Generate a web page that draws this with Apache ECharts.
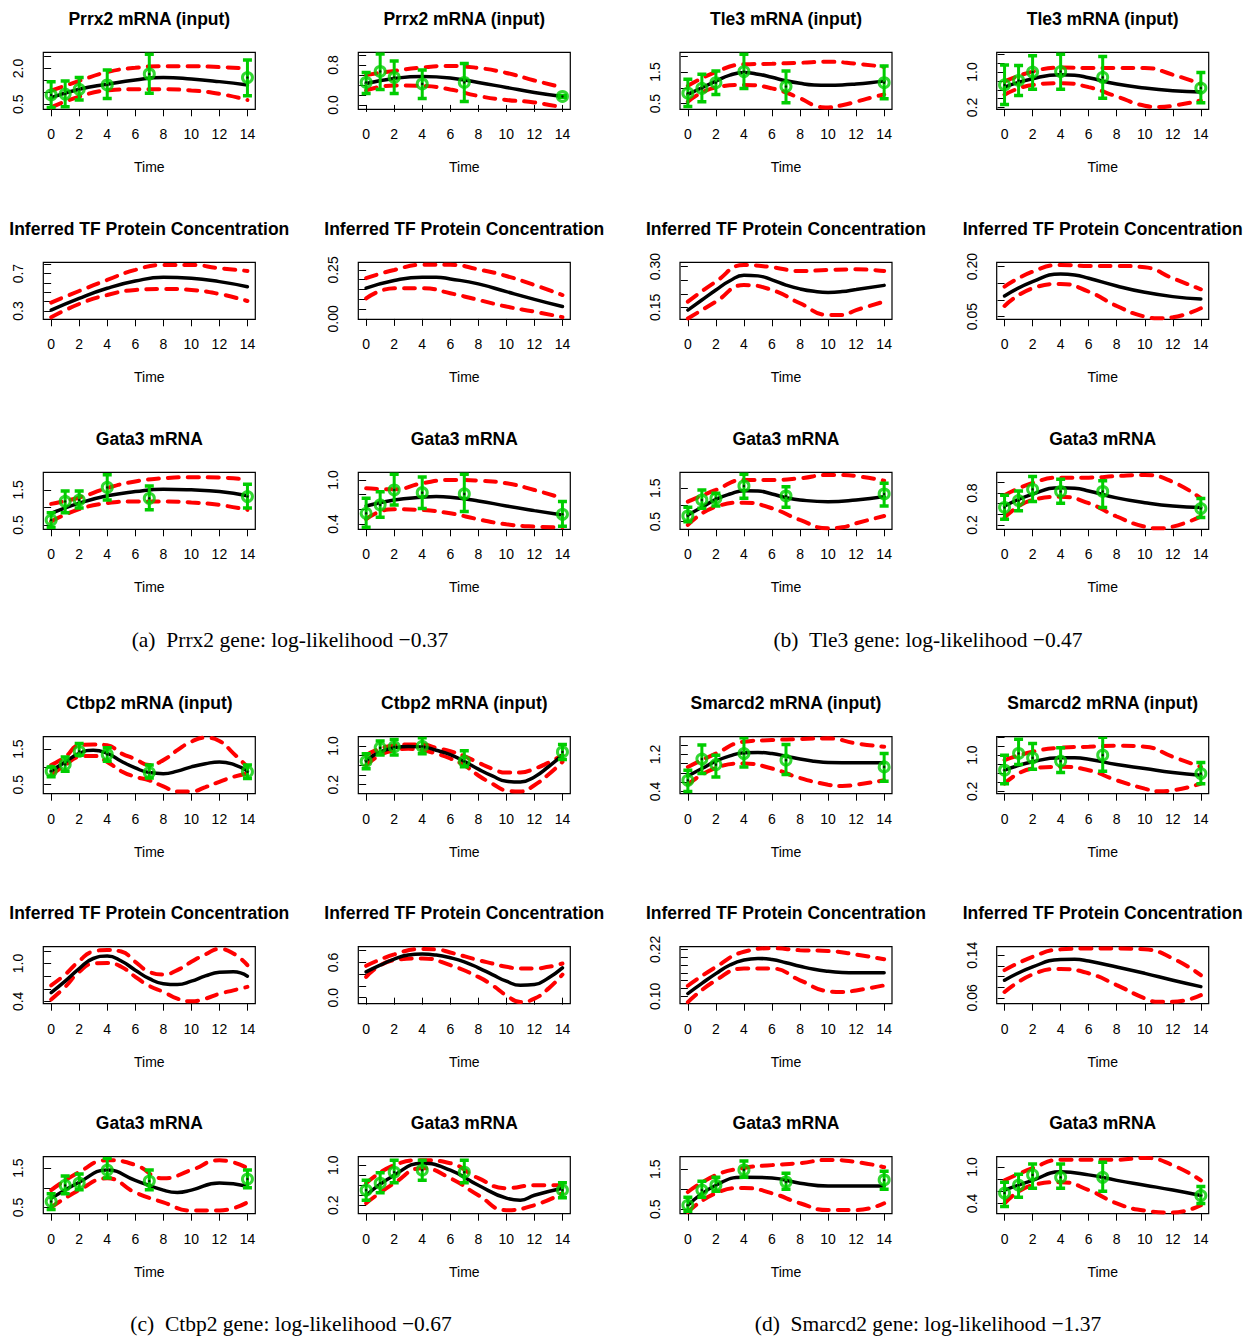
<!DOCTYPE html>
<html><head><meta charset="utf-8">
<script src="https://cdn.jsdelivr.net/npm/echarts@6/dist/echarts.min.js"></script>
<style>html,body{margin:0;padding:0;background:#fff}#chart{width:1250px;height:1338px}</style>
</head><body><div id="chart"></div>
<script>
// ---------- shared data ----------
const obsTimes = [0, 1, 2, 4, 7, 14];
const xTicks = [0, 2, 4, 6, 8, 10, 12, 14];
const captions = [
  '(a)\u00a0 Prrx2 gene: log-likelihood \u22120.37',
  '(b)\u00a0 Tle3 gene: log-likelihood \u22120.47',
  '(c)\u00a0 Ctbp2 gene: log-likelihood \u22120.67',
  '(d)\u00a0 Smarcd2 gene: log-likelihood \u22121.37'
];

// ---------- row 1 ----------
const r1c1Mean = [[0,0.78],[2,1.13],[4,1.34],[6,1.52],[8,1.62],[10,1.56],[12,1.45],[14,1.31]];
const r1c1Upper = [[0,1.07],[2,1.48],[4,1.85],[6,2.03],[8,2.1],[10,2.1],[12,2.06],[14,2.01]];
const r1c1Lower = [[0,0.37],[2,0.82],[4,1.08],[6,1.13],[8,1.13],[10,1.08],[12,0.94],[14,0.68]];
const r1c1Obs = [0.89,0.93,1.13,1.31,1.77,1.62];
const r1c1ObsLow = [0.37,0.40,0.68,0.74,0.96,0.86];
const r1c1ObsHigh = [1.45,1.48,1.62,1.94,2.6,2.36];
const r1c1YTicks = [0.5,1,1.5,2,2.5];
const r1c1YLabels = ['0.5','2.0'];

const r1c2Mean = [[0,0.43],[2,0.53],[4,0.57],[6,0.54],[8,0.45],[10,0.35],[12,0.25],[14,0.17]];
const r1c2Upper = [[0,0.6],[2,0.68],[4,0.75],[6,0.78],[8,0.74],[10,0.64],[12,0.49],[14,0.35]];
const r1c2Lower = [[0,0.29],[2,0.39],[4,0.38],[6,0.31],[8,0.18],[10,0.1],[12,0.05],[14,-0.05]];
const r1c2Obs = [0.45,0.67,0.55,0.42,0.45,0.17];
const r1c2ObsLow = [0.23,0.31,0.23,0.13,0.07,0.15];
const r1c2ObsHigh = [0.65,1.02,0.88,0.7,0.83,0.19];
const r1c2YTicks = [0,0.2,0.4,0.6,0.8,1.0];
const r1c2YLabels = ['0.0','0.8'];

const r1c3Mean = [[0,0.79],[1,1.0],[2,1.21],[3,1.4],[4,1.48],[5,1.43],[6,1.33],[7,1.22],[8,1.14],[9,1.09],[10,1.08],[11,1.09],[12,1.12],[13,1.16],[14,1.21]];
const r1c3Upper = [[0,1.06],[2,1.5],[4,1.74],[6,1.76],[8,1.79],[10,1.82],[12,1.76],[14,1.66]];
const r1c3Lower = [[0,0.56],[2,1.01],[4,1.09],[6,0.98],[8,0.67],[9,0.45],[10,0.38],[11,0.45],[12,0.56],[13,0.68],[14,0.79]];
const r1c3Obs = [0.83,0.98,1.16,1.51,1.04,1.16];
const r1c3ObsLow = [0.41,0.56,0.79,0.98,0.53,0.65];
const r1c3ObsHigh = [1.27,1.43,1.53,2.06,1.53,1.69];
const r1c3YTicks = [0.5,1,1.5,2];
const r1c3YLabels = ['0.5','1.5'];

const r1c4Mean = [[0,0.66],[2,0.85],[4,0.94],[5,0.93],[6,0.87],[8,0.73],[10,0.64],[12,0.58],[14,0.55]];
const r1c4Upper = [[0,0.79],[2,1.01],[4,1.1],[6,1.09],[8,1.09],[10,1.09],[12,0.94],[14,0.73]];
const r1c4Lower = [[0,0.49],[2,0.71],[4,0.75],[6,0.66],[8,0.45],[10,0.24],[11,0.21],[12,0.24],[14,0.36]];
const r1c4Obs = [0.71,0.81,1.0,1.01,0.88,0.64];
const r1c4ObsLow = [0.27,0.47,0.61,0.61,0.41,0.31];
const r1c4ObsHigh = [1.16,1.15,1.37,1.4,1.35,0.99];
const r1c4YTicks = [0.2,0.4,0.6,0.8,1.0,1.2,1.4];
const r1c4YLabels = ['0.2','1.0'];

// ---------- row 2 ----------
const r2c1Mean = [[0,0.31],[2,0.436],[4,0.543],[6,0.62],[8,0.66],[10,0.65],[12,0.614],[14,0.56]];
const r2c1Upper = [[0,0.39],[2,0.514],[4,0.632],[6,0.74],[8,0.793],[10,0.793],[12,0.757],[14,0.729]];
const r2c1Lower = [[0,0.232],[2,0.375],[4,0.471],[6,0.525],[8,0.536],[10,0.525],[12,0.482],[14,0.407]];
const r2c1YTicks = [0.3,0.4,0.5,0.6,0.7,0.8];
const r2c1YLabels = ['0.3','0.7'];

const r2c2Mean = [[0,0.157],[2,0.196],[4,0.213],[5,0.213],[6,0.204],[8,0.179],[10,0.139],[12,0.1],[14,0.063]];
const r2c2Upper = [[0,0.208],[2,0.25],[4,0.276],[6,0.276],[8,0.253],[10,0.219],[12,0.173],[14,0.122]];
const r2c2Lower = [[0,0.105],[2,0.157],[4,0.157],[6,0.131],[8,0.097],[10,0.063],[12,0.037],[14,0.009]];
const r2c2YTicks = [0,0.05,0.1,0.15,0.2,0.25];
const r2c2YLabels = ['0.00','0.25'];

const r2c3Mean = [[0,0.14],[1,0.177],[2,0.214],[3,0.248],[4,0.268],[5,0.266],[6,0.251],[7,0.232],[8,0.218],[9,0.209],[10,0.205],[11,0.208],[12,0.216],[14,0.231]];
const r2c3Upper = [[0,0.171],[2,0.245],[4,0.306],[6,0.298],[8,0.284],[10,0.288],[12,0.29],[14,0.284]];
const r2c3Lower = [[0,0.109],[2,0.171],[4,0.232],[6,0.214],[8,0.165],[10,0.122],[11,0.122],[12,0.14],[14,0.171]];
const r2c3YTicks = [0.15,0.2,0.25,0.3];
const r2c3YLabels = ['0.15','0.30'];

const r2c4Mean = [[0,0.112],[2,0.155],[4,0.178],[5,0.175],[6,0.165],[8,0.142],[10,0.123],[12,0.11],[14,0.103]];
const r2c4Upper = [[0,0.14],[2,0.185],[4,0.205],[6,0.202],[8,0.202],[10,0.198],[12,0.165],[14,0.132]];
const r2c4Lower = [[0,0.082],[2,0.135],[4,0.148],[6,0.125],[8,0.082],[10,0.05],[11,0.045],[12,0.048],[14,0.075]];
const r2c4YTicks = [0.05,0.1,0.15,0.2];
const r2c4YLabels = ['0.05','0.20'];

// ---------- row 3 ----------
const r3c1Mean = [[0,0.83],[2,1.12],[4,1.33],[6,1.45],[8,1.52],[10,1.5],[12,1.45],[14,1.33]];
const r3c1Upper = [[0,1.1],[2,1.28],[4,1.55],[6,1.74],[8,1.83],[10,1.86],[12,1.85],[14,1.79]];
const r3c1Lower = [[0,0.6],[2,0.95],[4,1.12],[6,1.17],[8,1.17],[10,1.14],[12,1.07],[14,0.93]];
const r3c1Obs = [0.64,1.17,1.21,1.57,1.26,1.31];
const r3c1ObsLow = [0.43,0.85,0.98,1.21,0.93,0.98];
const r3c1ObsHigh = [0.85,1.47,1.47,1.93,1.61,1.66];
const r3c1YTicks = [0.5,1,1.5];
const r3c1YLabels = ['0.5','1.5'];

const r3c2Mean = [[0,0.645],[2,0.727],[4,0.764],[5,0.773],[6,0.764],[8,0.714],[10,0.645],[12,0.582],[14,0.523]];
const r3c2Upper = [[0,0.886],[2,0.873],[4,0.955],[6,1.0],[7,1.0],[8,0.991],[10,0.955],[12,0.864],[14,0.75]];
const r3c2Lower = [[0,0.464],[1,0.57],[2,0.6],[4,0.59],[6,0.545],[8,0.464],[10,0.395],[12,0.364],[14,0.355]];
const r3c2Obs = [0.545,0.66,0.864,0.827,0.81,0.532];
const r3c2ObsLow = [0.355,0.49,0.66,0.61,0.57,0.37];
const r3c2ObsHigh = [0.75,0.84,1.08,1.04,1.08,0.705];
const r3c2YTicks = [0.4,0.6,0.8,1.0];
const r3c2YLabels = ['0.4','1.0'];

const r3c3Mean = [[0,0.7],[1,0.93],[2,1.17],[3,1.33],[4,1.43],[5,1.42],[6,1.33],[7,1.22],[8,1.15],[10,1.1],[12,1.15],[14,1.25]];
const r3c3Upper = [[0,1.1],[2,1.45],[4,1.75],[6,1.75],[8,1.8],[10,1.9],[11,1.9],[12,1.87],[14,1.73]];
const r3c3Lower = [[0,0.4],[2,0.95],[4,1.07],[6,0.9],[8,0.55],[10,0.3],[11,0.33],[12,0.45],[14,0.67]];
const r3c3Obs = [0.67,1.15,1.2,1.57,1.27,1.33];
const r3c3ObsLow = [0.5,0.9,0.97,1.2,0.93,0.97];
const r3c3ObsHigh = [0.93,1.45,1.35,1.92,1.55,1.65];
const r3c3YTicks = [0.5,1,1.5];
const r3c3YLabels = ['0.5','1.5'];

const r3c4Mean = [[0,0.556],[2,0.78],[4,0.9],[5,0.89],[6,0.84],[8,0.71],[10,0.62],[12,0.556],[14,0.53]];
const r3c4Upper = [[0,0.76],[2,0.99],[4,1.09],[6,1.09],[8,1.12],[10,1.14],[12,1.01],[14,0.7]];
const r3c4Lower = [[0,0.34],[2,0.67],[4,0.73],[6,0.61],[8,0.36],[10,0.17],[11,0.14],[12,0.17],[14,0.36]];
const r3c4Obs = [0.53,0.66,0.87,0.83,0.83,0.51];
const r3c4ObsLow = [0.31,0.47,0.64,0.61,0.53,0.34];
const r3c4ObsHigh = [0.76,0.84,1.11,1.06,1.03,0.7];
const r3c4YTicks = [0.2,0.4,0.6,0.8,1.0];
const r3c4YLabels = ['0.2','0.8'];

// ---------- row 4 ----------
const r4c1Mean = [[0,0.88],[1,1.14],[2,1.38],[3,1.47],[4,1.38],[5,1.16],[6,0.97],[7,0.84],[8,0.81],[9,0.88],[10,1.0],[11,1.09],[12,1.14],[13,1.07],[14,0.88]];
const r4c1Upper = [[0,1.05],[1,1.28],[2,1.61],[3,1.63],[4,1.61],[5,1.38],[6,1.22],[7,1.05],[8,1.19],[9,1.47],[10,1.71],[11,1.82],[12,1.73],[13,1.38],[14,1.0]];
const r4c1Lower = [[0,0.76],[1,1.05],[2,1.28],[3,1.31],[4,1.14],[5,0.88],[6,0.72],[7,0.62],[8,0.45],[9,0.31],[10,0.31],[11,0.43],[12,0.58],[13,0.72],[14,0.81]];
const r4c1Obs = [0.88,1.07,1.44,1.35,0.84,0.86];
const r4c1ObsLow = [0.72,0.88,1.33,1.16,0.69,0.67];
const r4c1ObsHigh = [1.0,1.28,1.66,1.54,1.05,1.05];
const r4c1YTicks = [0.5,1,1.5];
const r4c1YLabels = ['0.5','1.5'];

const r4c2Mean = [[0,0.7],[1,0.876],[2,0.96],[3,0.99],[4,0.98],[5,0.91],[6,0.82],[7,0.68],[8,0.52],[9,0.38],[10,0.27],[11,0.255],[12,0.36],[13,0.57],[14,0.81]];
const r4c2Upper = [[0,0.81],[1,0.945],[2,1.01],[3,1.03],[4,1.03],[5,0.96],[6,0.89],[7,0.79],[8,0.655],[9,0.53],[10,0.45],[11,0.45],[12,0.53],[13,0.655],[14,0.81]];
const r4c2Lower = [[0,0.6],[1,0.81],[2,0.91],[3,0.94],[4,0.91],[5,0.84],[6,0.74],[7,0.6],[8,0.39],[9,0.22],[10,0.08],[11,0.06],[12,0.19],[13,0.41],[14,0.67]];
const r4c2Obs = [0.68,0.96,0.98,0.99,0.68,0.876];
const r4c2ObsLow = [0.53,0.81,0.81,0.84,0.57,0.72];
const r4c2ObsHigh = [0.84,1.1,1.13,1.17,0.9,1.03];
const r4c2YTicks = [0.2,0.4,0.6,0.8,1.0];
const r4c2YLabels = ['0.2','1.0'];

const r4c3Mean = [[0,0.735],[1,0.895],[2,1.055],[3,1.17],[4,1.236],[5,1.244],[6,1.22],[7,1.164],[8,1.1],[9,1.055],[10,1.025],[12,1.018],[14,1.018]];
const r4c3Upper = [[0,0.93],[2,1.22],[4,1.476],[6,1.513],[8,1.535],[10,1.549],[12,1.44],[14,1.367]];
const r4c3Lower = [[0,0.545],[2,0.909],[4,1.004],[6,0.895],[8,0.69],[10,0.545],[11,0.516],[12,0.545],[14,0.64]];
const r4c3Obs = [0.64,1.1,0.98,1.22,1.076,0.93];
const r4c3ObsLow = [0.4,0.785,0.713,0.93,0.764,0.618];
const r4c3ObsHigh = [0.858,1.404,1.185,1.564,1.418,1.222];
const r4c3YTicks = [0.4,0.6,0.8,1.0,1.2,1.4];
const r4c3YLabels = ['0.4','1.2'];

const r4c4Mean = [[0,0.667],[2,0.852],[4,0.941],[5,0.941],[6,0.911],[8,0.793],[10,0.704],[12,0.615],[14,0.556]];
const r4c4Upper = [[0,0.889],[2,1.074],[4,1.163],[6,1.185],[8,1.207],[10,1.185],[12,0.963],[14,0.741]];
const r4c4Lower = [[0,0.37],[2,0.704],[4,0.741],[6,0.667],[8,0.444],[10,0.259],[11,0.2],[12,0.222],[14,0.37]];
const r4c4Obs = [0.667,1.037,0.941,0.867,1.0,0.593];
const r4c4ObsLow = [0.37,0.793,0.689,0.615,0.644,0.37];
const r4c4ObsHigh = [1.0,1.348,1.259,1.163,1.393,0.837];
const r4c4YTicks = [0.2,0.4,0.6,0.8,1.0,1.2,1.4];
const r4c4YLabels = ['0.2','1.0'];

// ---------- row 5 ----------
const r5c1Mean = [[0,0.538],[1,0.72],[2,0.92],[3,1.08],[4,1.118],[5,1.04],[6,0.895],[7,0.76],[8,0.68],[9,0.666],[10,0.72],[11,0.804],[12,0.86],[13,0.868],[14,0.8]];
const r5c1Upper = [[0,0.655],[1,0.826],[2,1.04],[3,1.19],[4,1.214],[5,1.19],[6,1.028],[7,0.868],[8,0.826],[9,0.895],[10,1.028],[11,1.145],[12,1.23],[13,1.16],[14,0.974]];
const r5c1Lower = [[0,0.43],[1,0.63],[2,0.87],[3,1.0],[4,1.01],[5,0.95],[6,0.79],[7,0.645],[8,0.55],[9,0.443],[10,0.4],[11,0.443],[12,0.52],[13,0.575],[14,0.63]];
const r5c1YTicks = [0.4,0.6,0.8,1.0,1.2];
const r5c1YLabels = ['0.4','1.0'];

const r5c2Mean = [[0,0.44],[1,0.554],[2,0.657],[3,0.726],[4,0.743],[5,0.726],[6,0.68],[7,0.611],[8,0.509],[9,0.394],[10,0.28],[11,0.211],[12,0.223],[13,0.337],[14,0.509]];
const r5c2Upper = [[0,0.543],[2,0.737],[4,0.829],[5,0.823],[6,0.771],[8,0.64],[9,0.583],[10,0.526],[11,0.497],[12,0.497],[13,0.526],[14,0.583]];
const r5c2Lower = [[0,0.354],[2,0.64],[4,0.669],[6,0.554],[8,0.354],[9,0.211],[10,0.04],[11,-0.074],[12,-0.017],[13,0.154],[14,0.394]];
const r5c2YTicks = [0,0.2,0.4,0.6,0.8];
const r5c2YLabels = ['0.0','0.6'];

const r5c3Mean = [[0,0.107],[1,0.133],[2,0.158],[3,0.18],[4,0.193],[5,0.197],[6,0.194],[7,0.186],[8,0.177],[9,0.169],[10,0.164],[11,0.161],[12,0.16],[14,0.16]];
const r5c3Upper = [[0,0.127],[2,0.175],[4,0.214],[6,0.223],[8,0.218],[10,0.216],[12,0.207],[14,0.195]];
const r5c3Lower = [[0,0.085],[2,0.141],[4,0.171],[6,0.171],[8,0.141],[10,0.113],[11,0.111],[12,0.115],[14,0.128]];
const r5c3YTicks = [0.1,0.12,0.14,0.16,0.18,0.2,0.22];
const r5c3YLabels = ['0.10','0.22'];

const r5c4Mean = [[0,0.093],[2,0.118],[4,0.132],[5,0.1325],[6,0.129],[8,0.118],[10,0.106],[12,0.093],[14,0.081]];
const r5c4Upper = [[0,0.112],[2,0.137],[4,0.151],[6,0.1525],[8,0.1525],[10,0.151],[12,0.134],[14,0.1025]];
const r5c4Lower = [[0,0.071],[2,0.104],[4,0.114],[6,0.106],[8,0.084],[10,0.059],[11,0.0525],[12,0.0525],[14,0.065]];
const r5c4YTicks = [0.06,0.08,0.1,0.12,0.14];
const r5c4YLabels = ['0.06','0.14'];

// ---------- row 6 ----------
const r6c1Mean = [[0,0.73],[2,1.14],[4,1.45],[6,1.19],[8,0.94],[9,0.88],[10,0.94],[12,1.12],[14,1.04]];
const r6c1Upper = [[0,0.94],[2,1.4],[4,1.7],[6,1.58],[8,1.24],[10,1.45],[12,1.7],[14,1.5]];
const r6c1Lower = [[0,0.5],[2,0.94],[4,1.24],[6,0.88],[8,0.63],[10,0.42],[12,0.42],[14,0.63]];
const r6c1Obs = [0.65,1.06,1.12,1.45,1.17,1.22];
const r6c1ObsLow = [0.45,0.85,0.95,1.25,0.95,1.0];
const r6c1ObsHigh = [0.85,1.3,1.35,1.75,1.45,1.45];
const r6c1YTicks = [0.5,1,1.5];
const r6c1YLabels = ['0.5','1.5'];

const r6c2Mean = [[0,0.4],[2,0.8],[4,1.04],[6,0.9],[8,0.6],[10,0.34],[11,0.3],[12,0.4],[14,0.54]];
const r6c2Upper = [[0,0.64],[2,1.0],[4,1.1],[6,1.04],[8,0.74],[10,0.54],[12,0.6],[14,0.6]];
const r6c2Lower = [[0,0.24],[2,0.64],[4,0.94],[6,0.74],[8,0.4],[10,0.1],[12,0.2],[14,0.44]];
const r6c2Obs = [0.5,0.64,0.86,0.9,0.86,0.5];
const r6c2ObsLow = [0.3,0.45,0.65,0.7,0.65,0.35];
const r6c2ObsHigh = [0.7,0.85,1.1,1.1,1.1,0.65];
const r6c2YTicks = [0.2,0.4,0.6,0.8,1.0];
const r6c2YLabels = ['0.2','1.0'];

const r6c3Mean = [[0,0.6],[2,1.1],[4,1.3],[6,1.28],[8,1.15],[10,1.08],[12,1.08],[14,1.08]];
const r6c3Upper = [[0,0.93],[2,1.35],[4,1.53],[6,1.6],[8,1.65],[10,1.73],[12,1.68],[14,1.55]];
const r6c3Lower = [[0,0.43],[2,0.9],[4,1.03],[6,0.9],[8,0.65],[10,0.48],[12,0.48],[14,0.65]];
const r6c3Obs = [0.6,0.98,1.1,1.48,1.18,1.23];
const r6c3ObsLow = [0.45,0.8,0.95,1.3,1.0,1.0];
const r6c3ObsHigh = [0.8,1.2,1.3,1.7,1.4,1.45];
const r6c3YTicks = [0.5,1,1.5];
const r6c3YLabels = ['0.5','1.5'];

const r6c4Mean = [[0,0.62],[2,0.78],[4,0.92],[6,0.87],[8,0.78],[10,0.7],[12,0.62],[14,0.53]];
const r6c4Upper = [[0,0.78],[2,0.98],[4,1.12],[6,1.12],[8,1.12],[10,1.15],[12,1.03],[14,0.78]];
const r6c4Lower = [[0,0.4],[2,0.7],[4,0.75],[6,0.62],[8,0.4],[10,0.28],[12,0.25],[14,0.37]];
const r6c4Obs = [0.57,0.7,0.87,0.83,0.83,0.53];
const r6c4ObsLow = [0.35,0.5,0.65,0.65,0.6,0.4];
const r6c4ObsHigh = [0.75,0.88,1.05,1.05,1.08,0.68];
const r6c4YTicks = [0.4,0.6,0.8,1.0];
const r6c4YLabels = ['0.4','1.0'];

// ---------- panel table (built from the arrays above) ----------
const T_IN = (g) => g + ' mRNA (input)';
const T_TF = 'Inferred TF Protein Concentration';
const T_GATA = 'Gata3 mRNA';
const panels = [
  {row:0,col:0,title:T_IN('Prrx2'),yMin:0.29,yMax:2.68,mean:r1c1Mean,upper:r1c1Upper,lower:r1c1Lower,obs:r1c1Obs,lo:r1c1ObsLow,hi:r1c1ObsHigh,ticks:r1c1YTicks,labels:r1c1YLabels},
  {row:0,col:1,title:T_IN('Prrx2'),yMin:-0.087,yMax:1.053,mean:r1c2Mean,upper:r1c2Upper,lower:r1c2Lower,obs:r1c2Obs,lo:r1c2ObsLow,hi:r1c2ObsHigh,ticks:r1c2YTicks,labels:r1c2YLabels},
  {row:0,col:2,title:T_IN('Tle3'),yMin:0.32,yMax:2.12,mean:r1c3Mean,upper:r1c3Upper,lower:r1c3Lower,obs:r1c3Obs,lo:r1c3ObsLow,hi:r1c3ObsHigh,ticks:r1c3YTicks,labels:r1c3YLabels},
  {row:0,col:3,title:T_IN('Tle3'),yMin:0.16,yMax:1.445,mean:r1c4Mean,upper:r1c4Upper,lower:r1c4Lower,obs:r1c4Obs,lo:r1c4ObsLow,hi:r1c4ObsHigh,ticks:r1c4YTicks,labels:r1c4YLabels},
  {row:1,col:0,title:T_TF,yMin:0.211,yMax:0.821,mean:r2c1Mean,upper:r2c1Upper,lower:r2c1Lower,ticks:r2c1YTicks,labels:r2c1YLabels},
  {row:1,col:1,title:T_TF,yMin:-0.002,yMax:0.289,mean:r2c2Mean,upper:r2c2Upper,lower:r2c2Lower,ticks:r2c2YTicks,labels:r2c2YLabels},
  {row:1,col:2,title:T_TF,yMin:0.106,yMax:0.316,mean:r2c3Mean,upper:r2c3Upper,lower:r2c3Lower,ticks:r2c3YTicks,labels:r2c3YLabels},
  {row:1,col:3,title:T_TF,yMin:0.042,yMax:0.213,mean:r2c4Mean,upper:r2c4Upper,lower:r2c4Lower,ticks:r2c4YTicks,labels:r2c4YLabels},
  {row:2,col:0,title:T_GATA,yMin:0.376,yMax:2.0,mean:r3c1Mean,upper:r3c1Upper,lower:r3c1Lower,obs:r3c1Obs,lo:r3c1ObsLow,hi:r3c1ObsHigh,ticks:r3c1YTicks,labels:r3c1YLabels},
  {row:2,col:1,title:T_GATA,yMin:0.327,yMax:1.105,mean:r3c2Mean,upper:r3c2Upper,lower:r3c2Lower,obs:r3c2Obs,lo:r3c2ObsLow,hi:r3c2ObsHigh,ticks:r3c2YTicks,labels:r3c2YLabels},
  {row:2,col:2,title:T_GATA,yMin:0.27,yMax:1.98,mean:r3c3Mean,upper:r3c3Upper,lower:r3c3Lower,obs:r3c3Obs,lo:r3c3ObsLow,hi:r3c3ObsHigh,ticks:r3c3YTicks,labels:r3c3YLabels},
  {row:2,col:3,title:T_GATA,yMin:0.12,yMax:1.19,mean:r3c4Mean,upper:r3c4Upper,lower:r3c4Lower,obs:r3c4Obs,lo:r3c4ObsLow,hi:r3c4ObsHigh,ticks:r3c4YTicks,labels:r3c4YLabels},
  {row:3,col:0,title:T_IN('Ctbp2'),yMin:0.245,yMax:1.85,mean:r4c1Mean,upper:r4c1Upper,lower:r4c1Lower,obs:r4c1Obs,lo:r4c1ObsLow,hi:r4c1ObsHigh,ticks:r4c1YTicks,labels:r4c1YLabels},
  {row:3,col:1,title:T_IN('Ctbp2'),yMin:0.014,yMax:1.19,mean:r4c2Mean,upper:r4c2Upper,lower:r4c2Lower,obs:r4c2Obs,lo:r4c2ObsLow,hi:r4c2ObsHigh,ticks:r4c2YTicks,labels:r4c2YLabels},
  {row:3,col:2,title:T_IN('Smarcd2'),yMin:0.35,yMax:1.585,mean:r4c3Mean,upper:r4c3Upper,lower:r4c3Lower,obs:r4c3Obs,lo:r4c3ObsLow,hi:r4c3ObsHigh,ticks:r4c3YTicks,labels:r4c3YLabels},
  {row:3,col:3,title:T_IN('Smarcd2'),yMin:0.148,yMax:1.407,mean:r4c4Mean,upper:r4c4Upper,lower:r4c4Lower,obs:r4c4Obs,lo:r4c4ObsLow,hi:r4c4ObsHigh,ticks:r4c4YTicks,labels:r4c4YLabels},
  {row:4,col:0,title:T_TF,yMin:0.363,yMax:1.267,mean:r5c1Mean,upper:r5c1Upper,lower:r5c1Lower,ticks:r5c1YTicks,labels:r5c1YLabels},
  {row:4,col:1,title:T_TF,yMin:-0.103,yMax:0.869,mean:r5c2Mean,upper:r5c2Upper,lower:r5c2Lower,ticks:r5c2YTicks,labels:r5c2YLabels},
  {row:4,col:2,title:T_TF,yMin:0.081,yMax:0.227,mean:r5c3Mean,upper:r5c3Upper,lower:r5c3Lower,ticks:r5c3YTicks,labels:r5c3YLabels},
  {row:4,col:3,title:T_TF,yMin:0.049,yMax:0.156,mean:r5c4Mean,upper:r5c4Upper,lower:r5c4Lower,ticks:r5c4YTicks,labels:r5c4YLabels},
  {row:5,col:0,title:T_GATA,yMin:0.34,yMax:1.79,mean:r6c1Mean,upper:r6c1Upper,lower:r6c1Lower,obs:r6c1Obs,lo:r6c1ObsLow,hi:r6c1ObsHigh,ticks:r6c1YTicks,labels:r6c1YLabels},
  {row:5,col:1,title:T_GATA,yMin:0.03,yMax:1.17,mean:r6c2Mean,upper:r6c2Upper,lower:r6c2Lower,obs:r6c2Obs,lo:r6c2ObsLow,hi:r6c2ObsHigh,ticks:r6c2YTicks,labels:r6c2YLabels},
  {row:5,col:2,title:T_GATA,yMin:0.39,yMax:1.81,mean:r6c3Mean,upper:r6c3Upper,lower:r6c3Lower,obs:r6c3Obs,lo:r6c3ObsLow,hi:r6c3ObsHigh,ticks:r6c3YTicks,labels:r6c3YLabels},
  {row:5,col:3,title:T_GATA,yMin:0.23,yMax:1.17,mean:r6c4Mean,upper:r6c4Upper,lower:r6c4Lower,obs:r6c4Obs,lo:r6c4ObsLow,hi:r6c4ObsHigh,ticks:r6c4YTicks,labels:r6c4YLabels}
];

// ---------- layout / style ----------
const colLeft = [43.3, 358.3, 680, 996.7];
const rowTop = [52.3, 262.3, 472.3, 736.7, 946.7, 1156.7];
const boxW = 212, boxH = 57;
const SANS = '"Liberation Sans", Arial, Helvetica, sans-serif';
const SERIF = '"Liberation Serif", "Times New Roman", serif';
const GREEN = '#00CD00';
const RED = '#FF0000';

const grids = [], xAxes = [], yAxes = [], series = [], graphics = [];

panels.forEach((p, i) => {
  const left = colLeft[p.col], top = rowTop[p.row];
  grids.push({left, top, width: boxW, height: boxH, show: true, borderColor: '#000', borderWidth: 1.2, backgroundColor: 'transparent'});
  xAxes.push({
    gridIndex: i, type: 'value', min: -0.56, max: 14.56,
    name: 'Time', nameLocation: 'middle', nameGap: 51,
    nameTextStyle: {fontFamily: SANS, fontSize: 14, color: '#000'},
    axisLine: {show: false}, splitLine: {show: false},
    axisTick: {show: true, length: 7, customValues: xTicks, lineStyle: {color: '#000', width: 1}},
    axisLabel: {customValues: xTicks, fontFamily: SANS, fontSize: 14, color: '#000', margin: 18, formatter: v => String(v)}
  });
  const labelVals = p.labels.map(Number);
  yAxes.push({
    gridIndex: i, type: 'value', min: p.yMin, max: p.yMax,
    axisLine: {show: false}, splitLine: {show: false},
    axisTick: {show: true, length: 7, customValues: p.ticks, lineStyle: {color: '#000', width: 1}},
    axisLabel: {customValues: labelVals, rotate: 90, fontFamily: SANS, fontSize: 14, color: '#000', margin: 18,
      formatter: v => { const k = labelVals.findIndex(u => Math.abs(u - v) < 1e-9); return k >= 0 ? p.labels[k] : ''; }}
  });
  const ax = {xAxisIndex: i, yAxisIndex: i, animation: false, silent: true};
  const dashed = {color: RED, width: 4, type: [11, 9], cap: 'round'};
  series.push(Object.assign({type: 'line', data: p.upper, smooth: 0.5, showSymbol: false, lineStyle: dashed, z: 2}, ax));
  series.push(Object.assign({type: 'line', data: p.lower, smooth: 0.5, showSymbol: false, lineStyle: dashed, z: 2}, ax));
  series.push(Object.assign({type: 'line', data: p.mean, smooth: 0.5, showSymbol: false, lineStyle: {color: '#000', width: 3.5, cap: 'round'}, z: 3}, ax));
  if (p.obs) {
    const errData = obsTimes.map((t, k) => [t, p.lo[k], p.hi[k]]);
    series.push(Object.assign({
      type: 'custom', data: errData, z: 4, clip: true,
      encode: {x: 0, y: [1, 2]},
      renderItem: (params, api) => {
        const a = api.coord([api.value(0), api.value(1)]);
        const b = api.coord([api.value(0), api.value(2)]);
        const st = {stroke: GREEN, lineWidth: 3, lineCap: 'butt'};
        const cap = {stroke: GREEN, lineWidth: 3.5, lineCap: 'butt'};
        const hw = 4.5;
        return {type: 'group', children: [
          {type: 'line', shape: {x1: a[0], y1: a[1], x2: b[0], y2: b[1]}, style: st},
          {type: 'line', shape: {x1: a[0] - hw, y1: a[1], x2: a[0] + hw, y2: a[1]}, style: cap},
          {type: 'line', shape: {x1: b[0] - hw, y1: b[1], x2: b[0] + hw, y2: b[1]}, style: cap}
        ]};
      }
    }, ax));
    const pts = obsTimes.map((t, k) => [t, p.obs[k]]);
    series.push(Object.assign({type: 'scatter', data: pts, symbol: 'circle', symbolSize: 10,
      itemStyle: {color: 'rgba(255,255,255,0)', borderColor: GREEN, borderWidth: 3}, z: 5}, ax));
    series.push(Object.assign({type: 'scatter', data: pts, symbol: 'circle', symbolSize: 2.5,
      itemStyle: {color: '#000'}, z: 6}, ax));
  }
  graphics.push({type: 'text', x: left + boxW / 2, y: top - 33.5, silent: true,
    style: {text: p.title, font: 'bold 17.5px ' + SANS, fill: '#000', align: 'center', verticalAlign: 'middle'}});
});

const capPos = [[290, 640], [928, 640], [291, 1324], [928, 1324]];
captions.forEach((c, k) => {
  graphics.push({type: 'text', x: capPos[k][0], y: capPos[k][1], silent: true,
    style: {text: c, font: '21.5px ' + SERIF, fill: '#000', align: 'center', verticalAlign: 'middle'}});
});

const chart = echarts.init(document.getElementById('chart'), null, {renderer: 'svg'});
chart.setOption({
  animation: false,
  backgroundColor: '#fff',
  grid: grids, xAxis: xAxes, yAxis: yAxes, series: series, graphic: graphics
});
</script>
</body></html>
